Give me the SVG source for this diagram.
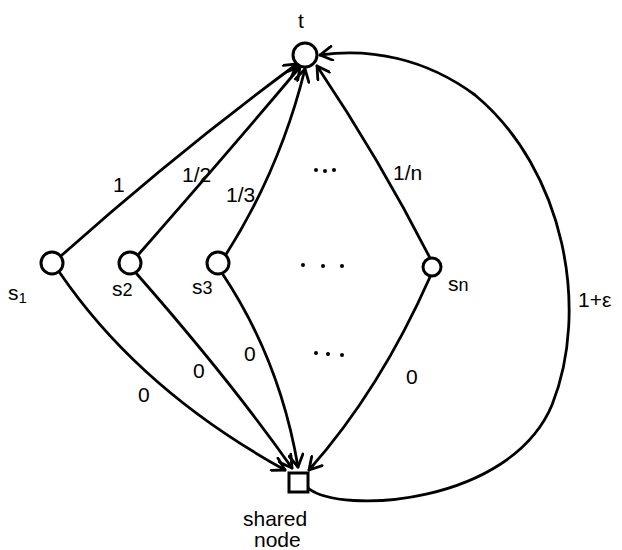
<svg xmlns="http://www.w3.org/2000/svg" width="622" height="550" viewBox="0 0 622 550">
<style>
.n{fill:#fff;stroke:#000;stroke-width:3}
.e{fill:none;stroke:#000;stroke-width:2.8;stroke-linecap:round;marker-end:url(#ah)}
.t{font-family:"Liberation Sans",Arial,sans-serif;font-size:21px;fill:#000}
.d{fill:#000}
</style>
<defs>
<marker id="ah" viewBox="0 0 16 16" refX="14" refY="8" markerWidth="16" markerHeight="16" markerUnits="userSpaceOnUse" orient="auto">
<path d="M2,1 L14,8 L2,15" fill="none" stroke="#000" stroke-width="2.8" stroke-linecap="round" stroke-linejoin="round"/>
</marker>
</defs>
<rect width="622" height="550" fill="#fff"/>
<g id="connectors">
<path class="e" d="M62,255 Q180,150 297,64"/>
<path class="e" d="M138,255 Q230,150 300,67"/>
<path class="e" d="M225,256 Q280,170 305,69"/>
<path class="e" d="M430,258 Q380,160 317,66"/>
<path class="e" d="M60,273 Q140,390 285,470"/>
<path class="e" d="M136,273 Q230,380 292,468"/>
<path class="e" d="M222,273 Q280,360 298,467"/>
<path class="e" d="M430,277 Q380,390 309,470"/>
<path class="e" d="M308,488 C340,515 510,505 552,405 C590,310 565,170 475,95 C425,58 370,48 320,55"/>
<text class="t" x="113" y="192">1</text>
<text class="t" x="182" y="182">1/2</text>
<text class="t" x="226" y="202">1/3</text>
<text class="t" x="393" y="180">1/n</text>
<text class="t" x="138" y="402">0</text>
<text class="t" x="193" y="378">0</text>
<text class="t" x="244" y="361">0</text>
<text class="t" x="406" y="384">0</text>
<text class="t" x="578" y="307" font-size="25">1+ε</text>
<g id="dots">
<circle class="d" cx="316" cy="170" r="2"/><circle class="d" cx="325" cy="171" r="2"/><circle class="d" cx="334" cy="170" r="2"/>
<circle class="d" cx="303" cy="265" r="2"/><circle class="d" cx="323" cy="266" r="2"/><circle class="d" cx="342" cy="266" r="2"/>
<circle class="d" cx="316" cy="353" r="2"/><circle class="d" cx="328" cy="354" r="2"/><circle class="d" cx="342" cy="355" r="2"/>
</g>
</g>
<g id="t"><circle class="n" cx="305" cy="55" r="12"/><text class="t" x="298" y="28" font-size="28">t</text></g>
<g id="s1"><circle class="n" cx="52" cy="263" r="11"/><text class="t" x="8" y="300">s<tspan font-size="15" dy="3">1</tspan></text></g>
<g id="s2"><circle class="n" cx="130" cy="263" r="11"/><text class="t" x="112" y="296">s<tspan font-size="18">2</tspan></text></g>
<g id="s3"><circle class="n" cx="218" cy="263" r="11"/><text class="t" x="192" y="294">s<tspan font-size="18">3</tspan></text></g>
<g id="sn"><circle class="n" cx="432" cy="267" r="9"/><text class="t" x="448" y="291">s<tspan font-size="18">n</tspan></text></g>
<g id="shared"><rect class="n" x="289" y="473" width="19" height="19"/><text class="t" x="243" y="526" font-size="20">shared</text><text class="t" x="254" y="547" font-size="20">node</text></g>
</svg>
